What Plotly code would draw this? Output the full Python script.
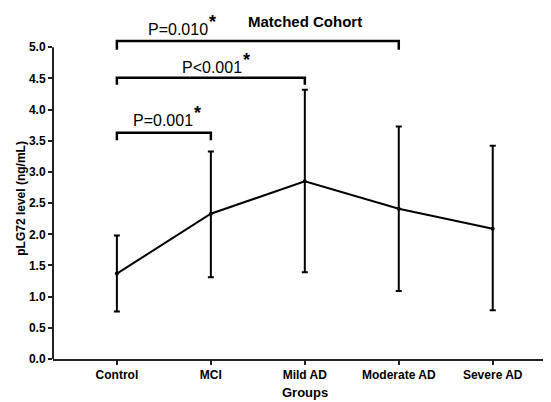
import plotly.graph_objects as go

categories = ["Control", "MCI", "Mild AD", "Moderate AD", "Severe AD"]
means = [1.37, 2.33, 2.85, 2.41, 2.09]
upper = [1.98, 3.33, 4.32, 3.73, 3.42]
lower = [0.76, 1.31, 1.39, 1.09, 0.78]
y_ticks = [0.0, 0.5, 1.0, 1.5, 2.0, 2.5, 3.0, 3.5, 4.0, 4.5, 5.0]

# significance brackets: (start group, end group, bar height, tick bottom, label, label x, label y, star x, star y)
brackets = [
    (0, 3, 5.10, 4.96, "P=0.010", 0.65, 5.29, 1.02, 5.40),
    (0, 2, 4.51, 4.40, "P<0.001", 1.01, 4.68, 1.38, 4.80),
    (0, 1, 3.63, 3.51, "P=0.001", 0.49, 3.82, 0.86, 3.94),
]

xs = list(range(len(categories)))
err_plus = [u - m for u, m in zip(upper, means)]
err_minus = [m - l for m, l in zip(means, lower)]

FONT = "Liberation Sans, Arial, sans-serif"

fig = go.Figure()
fig.add_trace(go.Scatter(
    x=xs, y=means, mode="lines+markers",
    line=dict(color="black", width=2),
    marker=dict(color="black", size=4),
    error_y=dict(type="data", symmetric=False, array=err_plus, arrayminus=err_minus,
                 color="black", thickness=2, width=3),
    showlegend=False,
))

shapes = []
annotations = []
for (a, b, h, bot, label, lx, ly, sx, sy) in brackets:
    shapes.append(dict(type="path",
                       path=f"M {a} {bot} L {a} {h} L {b} {h} L {b} {bot}",
                       xref="x", yref="y", line=dict(color="black", width=2.5)))
    annotations.append(dict(x=lx, y=ly, xref="x", yref="y", text=label, showarrow=False,
                            font=dict(family=FONT, size=16, color="black"),
                            xanchor="center", yanchor="middle"))
    annotations.append(dict(x=sx, y=sy, xref="x", yref="y", text="<b>*</b>", showarrow=False,
                            font=dict(family=FONT, size=18, color="black"),
                            xanchor="center", yanchor="middle"))

# y axis line from 0 to 5 only
shapes.append(dict(type="line", xref="paper", x0=0, x1=0, yref="y", y0=0, y1=5.0,
                   line=dict(color="#222", width=2)))

annotations.append(dict(x=2.0, y=5.42, xref="x", yref="y", text="<b>Matched Cohort</b>",
                        showarrow=False, font=dict(family=FONT, size=15, color="black"),
                        xanchor="center", yanchor="middle"))
# axis titles
annotations.append(dict(x=0, xref="paper", xshift=-32, y=2.57, yref="y",
                        text="<b>pLG72 level (ng/mL)</b>", textangle=-90, showarrow=False,
                        font=dict(family=FONT, size=12, color="black"),
                        xanchor="center", yanchor="middle"))
annotations.append(dict(x=2.0, xref="x", y=0, yref="paper", yshift=-33,
                        text="<b>Groups</b>", showarrow=False,
                        font=dict(family=FONT, size=13, color="black"),
                        xanchor="center", yanchor="middle"))

fig.update_layout(
    width=543, height=394,
    margin=dict(l=45, r=0, t=0, b=43),
    paper_bgcolor="white", plot_bgcolor="white",
    shapes=shapes, annotations=annotations,
    font=dict(family=FONT, color="black"),
)
fig.update_xaxes(
    range=[-0.68, 4.62], tickvals=xs, ticktext=[f"<b>{c}</b>" for c in categories],
    showline=True, linecolor="#222", linewidth=2, ticks="outside", ticklen=4,
    tickwidth=1.5, tickcolor="#222", showgrid=False, zeroline=False, automargin=False,
    tickfont=dict(family=FONT, size=12, color="black"),
)
fig.update_yaxes(
    range=[0, 5.63], tickvals=y_ticks, ticktext=[f"<b>{v:.1f}</b>" for v in y_ticks],
    showline=False, ticks="outside", ticklen=4, tickwidth=1.5, tickcolor="#222",
    showgrid=False, zeroline=False, automargin=False,
    tickfont=dict(family=FONT, size=12, color="black"),
)

fig.write_html("out.html")
